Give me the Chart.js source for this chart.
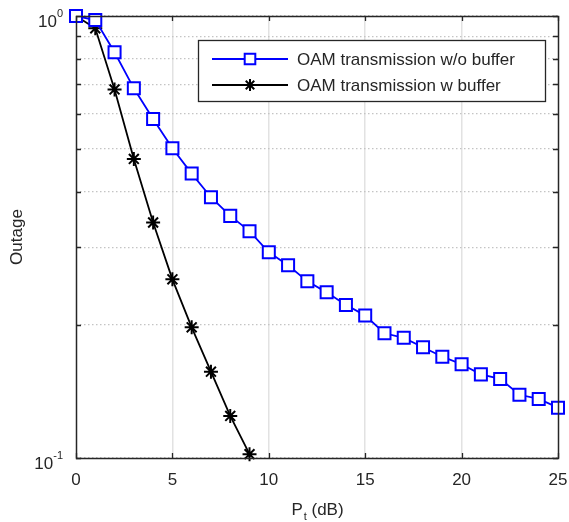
<!DOCTYPE html>
<html>
<head>
<meta charset="utf-8">
<script src="https://cdn.jsdelivr.net/npm/chart.js@4.4.1/dist/chart.umd.min.js"></script>
<style>
html,body{margin:0;padding:0;background:#fff;}
#wrap{width:569px;height:522px;position:relative;}
</style>
</head>
<body>
<div id="wrap"><canvas id="c" width="569" height="522"></canvas></div>
<script>
// ---- data ----
const xNoBuffer = [0,1,2,3,4,5,6,7,8,9,10,11,12,13,14,15,16,17,18,19,20,21,22,23,24,25];
const outageNoBuffer = [1.0,0.979,0.828,0.686,0.585,0.502,0.440,0.389,0.353,0.326,0.292,0.273,0.251,0.237,0.222,0.210,0.1915,0.187,0.178,0.1695,0.163,0.1546,0.151,0.139,0.136,0.130];
const xBuffer = [0,1,2,3,4,5,6,7,8,9];
const outageBuffer = [1.0,0.938,0.682,0.475,0.341,0.2536,0.1975,0.1568,0.1245,0.102];
const seriesLabels = ['OAM transmission w/o buffer','OAM transmission w buffer'];
const xTicks = [0,5,10,15,20,25];
const yTicks = [0.1,0.2,0.3,0.4,0.5,0.6,0.7,0.8,0.9,1];
const yMajorLabels = [{value:1, base:'10', exp:'0'},{value:0.1, base:'10', exp:'-1'}];
const xTitle = {main:'P', sub:'t', rest:' (dB)'};
const yTitle = 'Outage';

const FONT = '"Liberation Sans", Arial, sans-serif';
const TXT = '#262626';

const framePlugin = {
  id:'frame',
  afterDatasetsDraw(chart){
    const {ctx, chartArea:a, scales:{x,y}} = chart;
    ctx.save();
    ctx.strokeStyle = TXT; ctx.lineWidth = 1.3;
    // ticks
    ctx.beginPath();
    xTicks.forEach(v=>{
      const px = Math.round(x.getPixelForValue(v))+0.5;
      ctx.moveTo(px,a.bottom); ctx.lineTo(px,a.bottom-5);
      ctx.moveTo(px,a.top); ctx.lineTo(px,a.top+5);
    });
    yTicks.forEach(v=>{
      const py = Math.round(y.getPixelForValue(v))+0.5;
      ctx.moveTo(a.left,py); ctx.lineTo(a.left+5,py);
      ctx.moveTo(a.right,py); ctx.lineTo(a.right-5,py);
    });
    ctx.stroke();
    ctx.lineWidth = 1.5;
    ctx.strokeRect(Math.round(a.left)+0.5, Math.round(a.top)+0.5, Math.round(a.right-a.left), Math.round(a.bottom-a.top));
    // x tick labels
    ctx.fillStyle = TXT;
    ctx.font = '17px '+FONT;
    ctx.textAlign='center'; ctx.textBaseline='top';
    xTicks.forEach(v=>{ ctx.fillText(String(v), x.getPixelForValue(v), a.bottom+14); });
    // y major labels with superscripts
    yMajorLabels.forEach(l=>{
      const py = y.getPixelForValue(l.value);
      ctx.font = '11px '+FONT;
      const ew = ctx.measureText(l.exp).width;
      const right = a.left - 13;
      ctx.textAlign='left'; ctx.textBaseline='alphabetic';
      ctx.fillText(l.exp, right-ew, py+1);
      ctx.font = '17px '+FONT;
      const bw = ctx.measureText(l.base).width;
      ctx.fillText(l.base, right-ew-bw, py+10.5);
    });
    // x title
    const cx = (a.left+a.right)/2;
    ctx.font='17px '+FONT;
    const wMain = ctx.measureText(xTitle.main).width;
    const wRest = ctx.measureText(xTitle.rest).width;
    ctx.font='11px '+FONT;
    const wSub = ctx.measureText(xTitle.sub).width;
    let sx = cx - (wMain+wSub+wRest)/2;
    ctx.textAlign='left'; ctx.textBaseline='alphabetic';
    ctx.font='17px '+FONT;
    ctx.fillText(xTitle.main, sx, a.bottom+57);
    ctx.font='11px '+FONT;
    ctx.fillText(xTitle.sub, sx+wMain+1, a.bottom+62);
    ctx.font='17px '+FONT;
    ctx.fillText(xTitle.rest, sx+wMain+wSub+1, a.bottom+57);
    // y title
    ctx.save();
    ctx.translate(22, (a.top+a.bottom)/2);
    ctx.rotate(-Math.PI/2);
    ctx.textAlign='center'; ctx.textBaseline='alphabetic';
    ctx.font='17px '+FONT;
    ctx.fillText(yTitle,0,0);
    ctx.restore();
    ctx.restore();
  },
  afterDraw(chart){
    const {ctx} = chart;
    const bx=198.5, by=40.5, bw=347, bh=61;
    ctx.save();
    ctx.fillStyle='#fff'; ctx.fillRect(bx,by,bw,bh);
    ctx.strokeStyle=TXT; ctx.lineWidth=1.3; ctx.strokeRect(bx,by,bw,bh);
    const rows=[59,85];
    chart.data.datasets.forEach((ds,i)=>{
      const yy=rows[i];
      ctx.strokeStyle=ds.borderColor; ctx.lineWidth=ds.borderWidth;
      ctx.beginPath(); ctx.moveTo(212,yy); ctx.lineTo(288,yy); ctx.stroke();
      ctx.lineWidth=ds.pointBorderWidth;
      ctx.fillStyle = ds.pointBackgroundColor;
      Chart.helpers.drawPoint(ctx,{pointStyle:ds.pointStyle, radius:ds.pointRadius-1, borderWidth:ds.pointBorderWidth},250,yy);
      ctx.fillStyle=TXT; ctx.font='17px '+FONT; ctx.textAlign='left'; ctx.textBaseline='middle';
      ctx.fillText(ds.label,297,yy+1);
    });
    ctx.restore();
  }
};

new Chart(document.getElementById('c'),{
  type:'line',
  data:{datasets:[
    {label:seriesLabels[0], data:xNoBuffer.map((v,i)=>({x:v,y:outageNoBuffer[i]})),
     borderColor:'#0000ff', borderWidth:1.8, pointStyle:'rect', pointRadius:8.5, pointHoverRadius:8.5,
     pointBorderColor:'#0000ff', pointBackgroundColor:'#ffffff', pointBorderWidth:2, clip:false, tension:0},
    {label:seriesLabels[1], data:xBuffer.map((v,i)=>({x:v,y:outageBuffer[i]})),
     borderColor:'#000000', borderWidth:1.8, pointStyle:'star', pointRadius:7, pointHoverRadius:7,
     pointBorderColor:'#000000', pointBackgroundColor:'#000000', pointBorderWidth:2, clip:false, tension:0}
  ]},
  options:{
    responsive:false, animation:false, devicePixelRatio:1,
    layout:{padding:{left:76,top:16,right:11,bottom:64}},
    plugins:{legend:{display:false}, tooltip:{enabled:false}},
    events:[],
    scales:{
      x:{type:'linear', min:0, max:25,
        afterBuildTicks(s){ s.ticks = xTicks.map(v=>({value:v})); },
        ticks:{display:false},
        grid:{drawTicks:false, lineWidth:1.5, color:(c)=> (c.tick && (c.tick.value===0||c.tick.value===25)) ? 'rgba(0,0,0,0)' : '#e2e2e2'},
        border:{display:false}},
      y:{type:'logarithmic', min:0.1, max:1,
        afterBuildTicks(s){ s.ticks = yTicks.map(v=>({value:v})); },
        ticks:{display:false},
        grid:{drawTicks:false, lineWidth:1.2, color:'#c4c4c4'},
        border:{display:false, dash:[1.5,2.5]}}
    }
  },
  plugins:[framePlugin]
});
</script>
</body>
</html>
